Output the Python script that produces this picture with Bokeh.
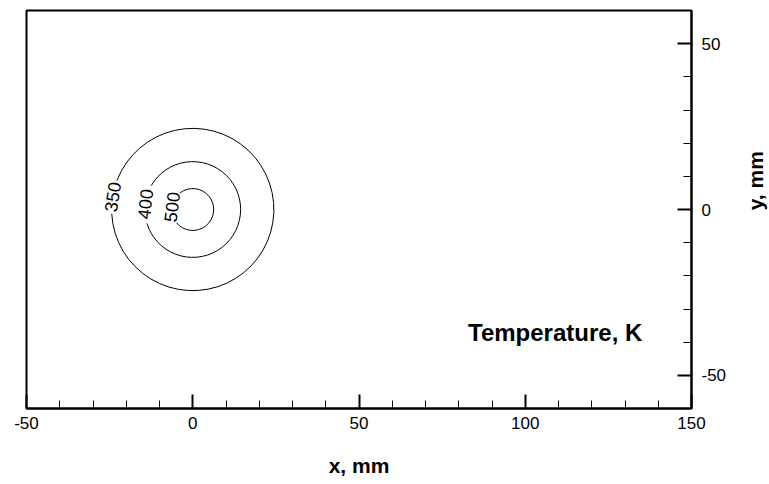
from bokeh.plotting import figure
from bokeh.models import Range1d, SingleIntervalTicker, CustomJSTickFormatter
from bokeh.layouts import row
from bokeh.core.properties import value
from bokeh.embed import file_html
from bokeh.resources import INLINE
import numpy as np

# contour levels (K) and their radii (mm) around the source at (0, 0)
levels = ["350", "400", "500"]
radii = [24.4, 14.4, 6.3]
# angular gap (deg) left in each contour for its label
gap_start = [159.0, 150.0, 127.0]
gap_end = [183.0, 197.0, 219.0]
center_x = [0.0, 0.0, 0.0]
center_y = [0.0, 0.0, 0.0]

FONT = "Liberation Sans"

p = figure(frame_width=665, frame_height=398,
           x_range=Range1d(-50, 150), y_range=Range1d(-60, 60),
           y_axis_location="right", output_backend="svg", toolbar_location=None,
           min_border_left=26, min_border_top=10, min_border_right=48, min_border_bottom=76)
p.grid.visible = False
p.outline_line_color = "black"
p.outline_line_width = 2
p.outline_line_alpha = 1

gs = np.array(gap_start)
ge = np.array(gap_end)
p.arc(x=center_x, y=center_y, radius=radii, start_angle=ge, end_angle=gs + 360,
      start_angle_units="deg", end_angle_units="deg", direction="anticlock",
      line_color="black", line_width=1)

mid = np.radians((gs + ge) / 2)
r = np.array(radii)
lx = r * np.cos(mid)
ly = r * np.sin(mid)
p.text(x=lx, y=ly, text=levels, angle=mid - np.pi / 2,
       text_font=value(FONT), text_font_size="18px", text_color="black",
       text_align="center", text_baseline="middle")

p.text(x=[109], y=[-37], text=["Temperature, K"], text_font=value(FONT),
       text_font_size="24px", text_font_style="bold", text_color="black",
       text_align="center", text_baseline="middle")

fmt = CustomJSTickFormatter(code="return String(tick);")
for ax in (p.xaxis[0], p.yaxis[0]):
    ax.ticker = SingleIntervalTicker(interval=50, num_minor_ticks=5)
    ax.formatter = fmt
    ax.axis_line_width = 2
    ax.axis_line_color = "black"
    ax.major_tick_in = 14
    ax.major_tick_out = 0
    ax.major_tick_line_width = 2
    ax.major_tick_line_color = "black"
    ax.minor_tick_in = 8
    ax.minor_tick_out = 0
    ax.minor_tick_line_width = 1
    ax.minor_tick_line_color = "black"
    ax.major_label_text_font = FONT
    ax.major_label_text_font_size = "17px"
    ax.major_label_text_color = "black"
    ax.axis_label_text_font = FONT
    ax.axis_label_text_font_size = "21px"
    ax.axis_label_text_font_style = "bold"
    ax.axis_label_text_color = "black"

p.xaxis.axis_label = "x, mm"
p.xaxis.major_label_standoff = 8
p.xaxis.axis_label_standoff = 22
p.yaxis.major_label_standoff = 10

# narrow strip on the right holding the y-axis title, reading bottom to top
strip_w = 769 - (26 + 665 + 48)
q = figure(width=strip_w, height=484, x_range=Range1d(0, strip_w), y_range=Range1d(0, 484),
           x_axis_type=None, y_axis_type=None, output_backend="svg", toolbar_location=None,
           min_border=0, outline_line_color=None)
q.grid.visible = False
q.text(x=[16], y=[484 - 207], text=["y, mm"], angle=np.pi / 2,
       text_font=value(FONT), text_font_size="21px", text_font_style="bold",
       text_color="black", text_align="center", text_baseline="middle")

layout = row(p, q, spacing=0)
open("out.html", "w").write(file_html(layout, INLINE))
